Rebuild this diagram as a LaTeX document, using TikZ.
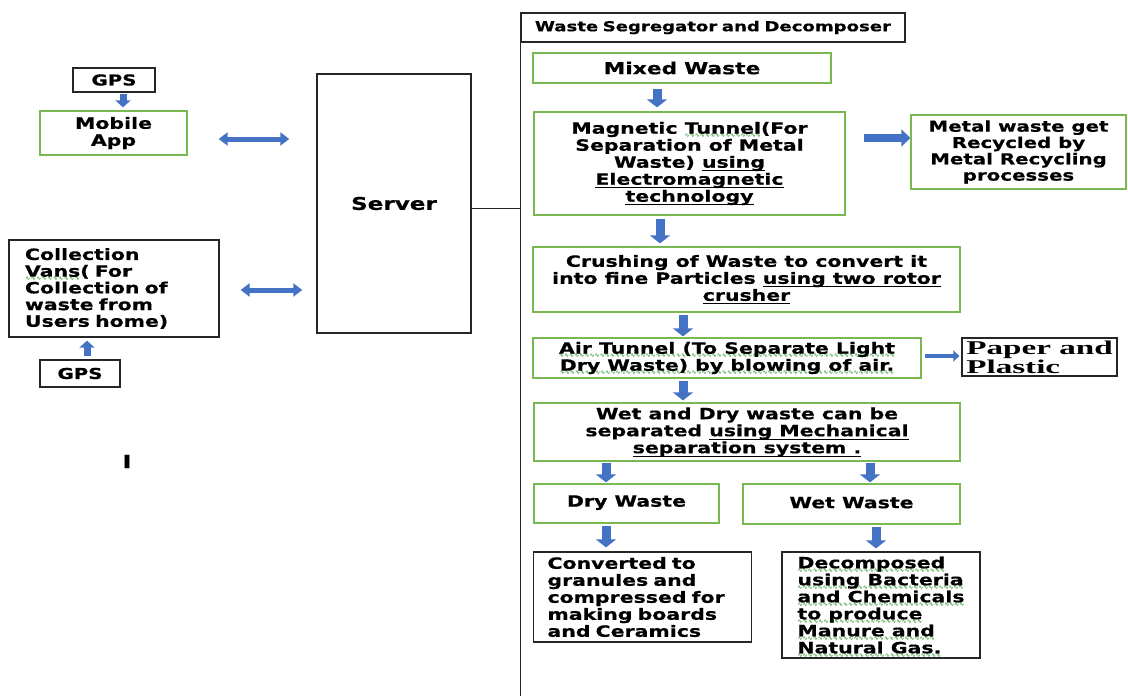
\documentclass[tikz,border=0pt]{standalone}
\usepackage{fontspec}
\setmainfont{DejaVu Sans}[FakeStretch=1.32, BoldFeatures={FakeBold=0.6}]
\newfontfamily\tnr{Liberation Serif}[FakeStretch=1.7]
\newfontfamily\wavef{DejaVu Sans}
\usetikzlibrary{arrows.meta}
\definecolor{arrowblue}{RGB}{68,114,196}
\definecolor{boxgreen}{RGB}{122,184,82}
\definecolor{wavegreen}{RGB}{60,160,60}
\newsavebox\ulbox
\newcommand\bu[1]{\leavevmode\sbox\ulbox{#1}\rlap{\rule[-3.2pt]{\wd\ulbox}{0.9pt}}\usebox\ulbox}
\newcommand\gw[1]{\leavevmode\sbox\ulbox{#1}\rlap{\raisebox{-4.2pt}[0pt][0pt]{\textcolor{wavegreen}{\makebox[\wd\ulbox][l]{\wavef\fontsize{6}{6}\selectfont\xleaders\hbox{∿}\hfill}}}}\usebox\ulbox}
\newcommand\mf{\fontsize{15.5}{17}\selectfont\bfseries}
\tikzset{
  gbox/.style={draw=boxgreen, line width=1.3pt, inner sep=0pt, align=center, font=\mf},
  bbox/.style={draw=black!85, line width=1.3pt, inner sep=0pt, align=center, font=\mf},
  barrow/.style={draw=arrowblue, line width=9pt, -{Triangle[width=20pt,length=8pt]}},
  sarrow/.style={draw=arrowblue, line width=7pt, -{Triangle[width=15pt,length=7pt]}},
  tarrow/.style={draw=arrowblue, line width=3.5pt, -{Triangle[width=11pt,length=6pt]}},
  darrow/.style={draw=arrowblue, line width=5pt, {Triangle[width=13pt,length=9pt]}-{Triangle[width=13pt,length=9pt]}},
}
\begin{document}
\begin{tikzpicture}[x=1pt,y=-1pt]
\useasboundingbox (0,0) rectangle (1128,696);
\fill[white] (0,0) rectangle (1128,696);

% left side
\node[bbox, minimum width=82pt, minimum height=24pt, font=\fontsize{15}{16}\selectfont\bfseries] (gps1) at (114,80) {GPS};
\node[gbox, minimum width=147pt, minimum height=44pt] (app) at (113.5,133) {Mobile\\App};
\node[bbox, line width=1.5pt, minimum width=154pt, minimum height=259pt, font=\fontsize{17.5}{18}\selectfont\bfseries] (server) at (394,203.5) {Server};
\node[bbox, minimum width=210pt, minimum height=97pt, text width=178pt, align=left, inner xsep=16pt, font=\fontsize{15.5}{16.7}\selectfont\bfseries] (coll) at (114,288.5)
  {Collection\\\gw{Vans}( For\\Collection of\\waste from\\Users home)};
\node[bbox, minimum width=80pt, minimum height=27pt, font=\fontsize{15}{16}\selectfont\bfseries] (gps2) at (80,373.5) {GPS};
\node[font=\fontsize{18}{18}\selectfont\bfseries, inner sep=0pt] (cursor) at (127,461.5) {I};

\draw[sarrow, shorten <=1pt, shorten >=3pt] ([xshift=9pt]gps1.south) -- ([xshift=9.5pt]app.north);
\draw[darrow, shorten <=31pt, shorten >=27pt] ([yshift=-6pt]app.east) -- ([yshift=-6pt]app.east -| server.west);
\draw[darrow, shorten <=21pt, shorten >=14pt] ([yshift=-1.5pt]coll.east) -- ([yshift=-1.5pt]coll.east -| server.west);
\draw[sarrow, shorten <=3pt, shorten >=3pt] ([xshift=7pt]gps2.north) -- ([xshift=-27pt]coll.south);

% right side container
\node[bbox, minimum width=384pt, minimum height=29pt, text width=356pt, align=left, inner xsep=14pt, font=\fontsize{13.7}{15}\selectfont\bfseries] (header) at (713,27.5)
  {\mbox{Waste Segregator and Decomposer}};
\coordinate (cbot) at (521,697);
\draw[line width=1.6pt, black!85] (header.south west) -- (header.south west |- cbot);
\draw[line width=0.9pt, black!85] ([yshift=-4.5pt]server.east) -- ([yshift=-4.5pt]server.east -| header.west);

\node[gbox, minimum width=298pt, minimum height=30pt, font=\fontsize{16.5}{17}\selectfont\bfseries] (mixed) at (682,68) {Mixed\hspace{7pt}Waste};
\node[gbox, minimum width=311pt, minimum height=103pt] (mag) at (689.5,163.5)
  {Magnetic \gw{Tunnel}(For\\Separation of Metal\\Waste) \bu{using}\\\bu{Electromagnetic}\\\bu{technology}};
\node[gbox, minimum width=215pt, minimum height=74pt, font=\fontsize{15}{16.3}\selectfont\bfseries] (metal) at (1018.5,152)
  {Metal waste get\\Recycled by\\Metal Recycling\\processes};
\node[gbox, minimum width=427pt, minimum height=65pt] (crush) at (746.5,279.5)
  {Crushing of Waste to convert it\\into fine Particles \bu{using two rotor}\\\bu{crusher}};
\node[gbox, minimum width=388pt, minimum height=40pt] (air) at (727,358)
  {\gw{Air Tunnel (To Separate Light}\\\gw{Dry Waste) by blowing of air.}};
\node[bbox, minimum width=155pt, minimum height=38pt, align=left, font=\tnr\fontsize{19.5}{16}\selectfont\bfseries] (paper) at (1039.5,357)
  {Paper and\\Plastic};
\node[gbox, minimum width=426pt, minimum height=58pt] (wd) at (747,432)
  {Wet and Dry waste can be\\separated \bu{using Mechanical}\\\bu{separation system .}};
\node[gbox, minimum width=185pt, minimum height=39pt] (dry) at (626.5,503.5) {\raisebox{5pt}{Dry Waste}};
\node[gbox, minimum width=217pt, minimum height=40pt] (wet) at (851.5,504) {\raisebox{3pt}{Wet Waste}};
\node[bbox, minimum width=217pt, minimum height=90pt, text width=190pt, align=left, inner xsep=14pt] (conv) at (642.5,597)
  {Converted to\\granules and\\compressed for\\making boards\\and Ceramics};
\node[bbox, minimum width=198pt, minimum height=106pt, align=left] (dec) at (881,605)
  {\gw{Decomposed}\\\gw{using Bacteria}\\\gw{and Chemicals}\\\gw{to produce}\\\gw{Manure and}\\\gw{Natural Gas.}};

% arrows
\draw[barrow, shorten <=5pt, shorten >=4pt] ([xshift=-25pt]mixed.south) -- ([xshift=-32.5pt]mag.north);
\draw[sarrow, line width=8pt, -{Triangle[width=17pt,length=9pt]}, shorten <=18pt, shorten >=0pt] ([yshift=25.5pt]mag.east) -- ([yshift=14pt]metal.west);
\draw[barrow, shorten <=3pt, shorten >=3pt] ([xshift=-29.5pt]mag.south) -- ([xshift=-86.5pt]crush.north);
\draw[barrow, shorten <=2pt, shorten >=1pt] ([xshift=-63.5pt]crush.south) -- ([xshift=-44pt]air.north);
\draw[tarrow, shorten <=3pt, shorten >=2pt] ([yshift=2pt]air.east) -- ([yshift=1pt]paper.west);
\draw[barrow, shorten <=2pt, shorten >=2pt] ([xshift=-44pt]air.south) -- ([xshift=-64pt]wd.north);
\draw[barrow, shorten <=1pt, shorten >=1pt] ([xshift=-141pt]wd.south) -- ([xshift=-20.5pt]dry.north);
\draw[barrow, shorten <=1pt, shorten >=1pt] ([xshift=123pt]wd.south) -- ([xshift=18.5pt]wet.north);
\draw[barrow, shorten <=2pt, shorten >=4pt] ([xshift=-20.5pt]dry.south) -- ([xshift=-36.5pt]conv.north);
\draw[barrow, shorten <=2pt, shorten >=3pt] ([xshift=24.5pt]wet.south) -- ([xshift=-5pt]dec.north);
\end{tikzpicture}
\end{document}
